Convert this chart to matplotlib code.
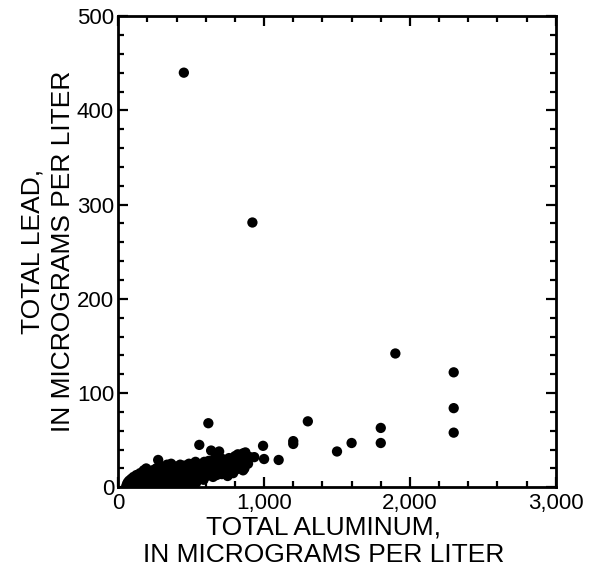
import matplotlib.pyplot as plt
from matplotlib.ticker import MultipleLocator

plt.rcParams['font.family'] = ['Liberation Sans', 'DejaVu Sans']

# total aluminum / total lead pairs, micrograms per liter
aluminum = [55, 60, 65, 70, 75, 80, 85, 90, 95, 100, 105, 110, 115, 120, 125, 130, 135, 140,
            145, 150, 155, 160, 165, 170, 175, 180, 185, 190, 192, 195, 200, 205, 210, 215,
            220, 225, 230, 235, 240, 245, 250, 255, 260, 265, 270, 274, 280, 285, 290, 295,
            300, 305, 310, 315, 320, 325, 330, 335, 340, 345, 350, 355, 360, 363, 370, 375,
            380, 385, 390, 395, 400, 405, 410, 415, 420, 425, 430, 435, 440, 445, 450, 455,
            460, 465, 470, 475, 480, 485, 490, 495, 500, 505, 510, 514, 520, 525, 530, 535,
            540, 545, 550, 556, 560, 565, 570, 575, 580, 585, 590, 595, 600, 605, 610, 618,
            620, 625, 630, 637, 640, 645, 650, 655, 660, 665, 670, 675, 680, 685, 692, 695,
            700, 705, 710, 715, 720, 725, 733, 740, 745, 750, 755, 760, 765, 770, 775, 780,
            788, 795, 800, 805, 810, 815, 820, 825, 830, 836, 845, 856, 856, 865, 872, 880,
            890, 904, 933, 993, 1000, 1100, 1200, 1200, 1300, 1500, 1600, 1800, 1800, 1900,
            2300, 2300, 2300, 450, 920]
lead = [1, 3, 5, 2, 7, 4, 1, 9, 3, 6, 11, 2, 8, 4, 13, 6, 1, 10,
        3, 15, 7, 2, 12, 5, 18, 9, 1, 14, 20, 6, 11, 3, 16, 8,
        1, 13, 5, 18, 10, 2, 14, 7, 20, 3, 12, 29, 8, 17, 4, 22,
        11, 1, 15, 7, 19, 3, 13, 24, 9, 5, 17, 12, 2, 25, 15, 8,
        20, 4, 13, 22, 10, 6, 17, 2, 14, 24, 8, 19, 12, 4, 16, 23,
        9, 20, 14, 6, 18, 25, 11, 3, 21, 15, 8, 25, 18, 12, 27, 5,
        20, 14, 22, 45, 10, 17, 24, 13, 20, 8, 27, 16, 22, 12, 19, 68,
        28, 15, 23, 39, 18, 26, 11, 21, 30, 16, 24, 13, 20, 28, 38, 17,
        25, 22, 14, 30, 19, 26, 21, 17, 28, 12, 24, 31, 20, 15, 26, 22,
        15, 28, 33, 24, 19, 29, 35, 25, 30, 27, 33, 36, 18, 20, 37, 28,
        25, 32, 32, 44, 30, 29, 49, 46, 70, 38, 47, 63, 47, 142,
        122, 84, 58, 440, 281]

xticks = [0, 1000, 2000, 3000]
xticklabels = ['0', '1,000', '2,000', '3,000']
yticks = [0, 100, 200, 300, 400, 500]

fig = plt.figure(figsize=(5.97, 5.76), dpi=100)
ax = fig.add_axes([0.198, 0.154, 0.733, 0.818])

ax.scatter(aluminum, lead, s=55, color='black', edgecolors='none', zorder=3)

ax.set_xlim(0, 3000)
ax.set_ylim(0, 500)
ax.set_xticks(xticks)
ax.set_xticklabels(xticklabels)
ax.set_yticks(yticks)
ax.xaxis.set_minor_locator(MultipleLocator(200))
ax.yaxis.set_minor_locator(MultipleLocator(20))
ax.tick_params(which='both', direction='in', top=True, right=True, width=1.6)
ax.tick_params(which='major', length=7, labelsize=16)
ax.tick_params(axis='x', which='major', pad=4)
ax.tick_params(axis='y', which='major', pad=3)
ax.tick_params(which='minor', length=4)
for sp in ax.spines.values():
    sp.set_linewidth(2)

ax.set_xlabel('TOTAL ALUMINUM,\nIN MICROGRAMS PER LITER', fontsize=19, linespacing=1.2, labelpad=1)
ax.set_ylabel('TOTAL LEAD,\nIN MICROGRAMS PER LITER', fontsize=19, linespacing=1.35, labelpad=1)
ax.xaxis.label.set_x(0.47)

fig.savefig('out.png', dpi=100)
